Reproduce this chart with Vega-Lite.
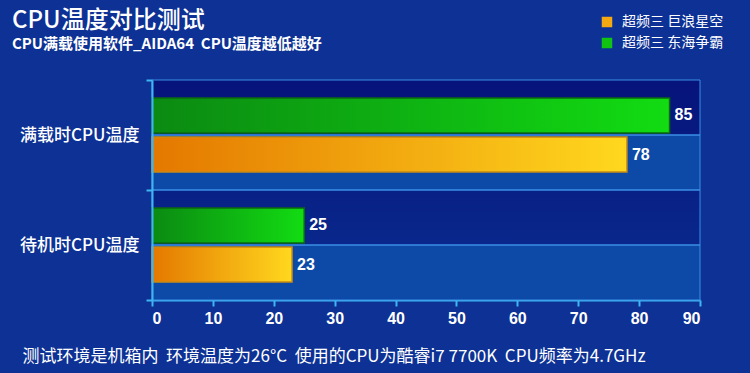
{
  "$schema": "https://vega.github.io/schema/vega-lite/v6.json",
  "width": 548,
  "height": 220,
  "autosize": {"type": "none"},
  "padding": {"left": 152, "top": 80, "right": 50, "bottom": 73},
  "background": "#0d3194",
  "config": {
    "view": {"stroke": null, "fill": {"gradient": "linear", "x1": 0, "y1": 0, "x2": 0, "y2": 1, "stops": [{"offset": 0, "color": "#06137a"}, {"offset": 1, "color": "#0a2e92"}]}},
    "font": "Noto Sans CJK SC"
  },
  "title": {
    "text": "CPU温度对比测试",
    "subtitle": "CPU满载使用软件_AIDA64\u00a0\u00a0CPU温度越低越好",
    "anchor": "start",
    "frame": "group",
    "dx": -140,
    "offset": -37,
    "font": "Noto Sans CJK SC",
    "fontSize": 24,
    "fontWeight": 500,
    "color": "#ffffff",
    "subtitleFont": "Noto Sans CJK SC",
    "subtitleFontSize": 15,
    "subtitleFontWeight": "bold",
    "subtitleColor": "#ffffff",
    "subtitlePadding": 4
  },
  "data": {
    "values": [
      {"cat": "满载时CPU温度", "series": "超频三 巨浪星空", "value": 78},
      {"cat": "满载时CPU温度", "series": "超频三 东海争霸", "value": 85},
      {"cat": "待机时CPU温度", "series": "超频三 巨浪星空", "value": 23},
      {"cat": "待机时CPU温度", "series": "超频三 东海争霸", "value": 25}
    ]
  },
  "encoding": {
    "y": {
      "field": "cat",
      "type": "nominal",
      "sort": ["满载时CPU温度", "待机时CPU温度"],
      "scale": {"paddingInner": 0, "paddingOuter": 0},
      "axis": {
        "title": null,
        "domainColor": "#3fb6f2",
        "domainWidth": 2,
        "tickColor": "#3fb6f2",
        "tickWidth": 2,
        "tickSize": 6,
        "tickBand": "extent",
        "labelColor": "#ffffff",
        "labelFontSize": 17,
        "labelFont": "Noto Sans CJK SC",
        "labelFontWeight": 500,
        "labelPadding": 7,
        "grid": false
      }
    },
    "yOffset": {
      "field": "series",
      "type": "nominal",
      "sort": ["超频三 东海争霸", "超频三 巨浪星空"]
    }
  },
  "layer": [
    {
      "layer": [
        {
          "mark": {"type": "rect", "stroke": "#3a8fe6", "strokeWidth": 1},
          "encoding": {
            "x": {"datum": 0, "type": "quantitative"},
            "x2": {"datum": 90},
            "fill": {
              "field": "series",
              "type": "nominal",
              "scale": {"domain": ["超频三 东海争霸", "超频三 巨浪星空"], "range": ["rgba(0,0,0,0)", "#0d4aa8"]},
              "legend": null
            },
            "yOffset": {
              "field": "series",
              "type": "nominal",
              "sort": ["超频三 东海争霸", "超频三 巨浪星空"],
              "scale": {"paddingInner": 0, "paddingOuter": 0}
            }
          }
        }
      ]
    },
    {
      "encoding": {
        "yOffset": {
          "field": "series",
          "type": "nominal",
          "sort": ["超频三 东海争霸", "超频三 巨浪星空"],
          "scale": {"paddingInner": 0.1, "paddingOuter": 0.46}
        },
        "x": {
          "field": "value",
          "type": "quantitative",
          "scale": {"domain": [0, 90], "nice": false},
          "axis": {
            "values": [0, 10, 20, 30, 40, 50, 60, 70, 80, 90],
            "domainColor": "#3fb6f2",
            "domainWidth": 2,
            "tickColor": "#3fb6f2",
            "tickWidth": 2,
            "tickSize": 6,
            "grid": false,
            "labelColor": "#ffffff",
            "labelFont": "Liberation Sans",
            "labelFontSize": 16,
            "labelFontWeight": "bold",
            "labelPadding": 4,
            "title": "测试环境是机箱内\u00a0\u00a0环境温度为26°C\u00a0\u00a0使用的CPU为酷睿i7\u00a07700K\u00a0\u00a0CPU频率为4.7GHz",
            "titleColor": "#ffffff",
            "titleFont": "Noto Sans CJK SC",
            "titleFontSize": 17,
            "titleFontWeight": "normal",
            "titleAnchor": "start",
            "titleAlign": "left",
            "titleBaseline": "middle",
            "titleX": -130,
            "titleY": 56
          }
        }
      },
      "layer": [
        {
          "mark": {"type": "bar"},
          "encoding": {
            "color": {
              "field": "series",
              "type": "nominal",
              "scale": {"domain": ["超频三 巨浪星空", "超频三 东海争霸"], "range": ["#f4a812", "#12c412"]},
              "legend": {
                "title": null,
                "orient": "none",
                "legendX": 448,
                "legendY": -65,
                "symbolType": "square",
                "symbolSize": 110,
                "symbolStrokeWidth": 1,
                "symbolOpacity": 1,
                "labelColor": "#ffffff",
                "labelFont": "Noto Sans CJK SC",
                "labelFontSize": 14,
                "labelOffset": 8,
                "rowPadding": 7
              }
            }
          }
        },
        {
          "transform": [{"filter": "datum.series === '超频三 东海争霸'"}],
          "mark": {
            "type": "bar",
            "stroke": "#0b6a10",
            "strokeWidth": 1.5,
            "fill": {"gradient": "linear", "x1": 0, "y1": 0, "x2": 1, "y2": 0, "stops": [{"offset": 0, "color": "#0b8a12"}, {"offset": 1, "color": "#12dc12"}]}
          }
        },
        {
          "transform": [{"filter": "datum.series === '超频三 巨浪星空'"}],
          "mark": {
            "type": "bar",
            "stroke": "#c88a12",
            "strokeWidth": 1.5,
            "fill": {"gradient": "linear", "x1": 0, "y1": 0, "x2": 1, "y2": 0, "stops": [{"offset": 0, "color": "#e47800"}, {"offset": 1, "color": "#ffd81e"}]}
          }
        },
        {
          "mark": {"type": "text", "align": "left", "baseline": "middle", "dx": 5, "color": "#ffffff", "fontSize": 16, "fontWeight": "bold", "font": "Liberation Sans"},
          "encoding": {"text": {"field": "value", "type": "quantitative"}}
        }
      ]
    }
  ],
  "resolve": {"scale": {"yOffset": "independent", "fill": "independent"}}
}
